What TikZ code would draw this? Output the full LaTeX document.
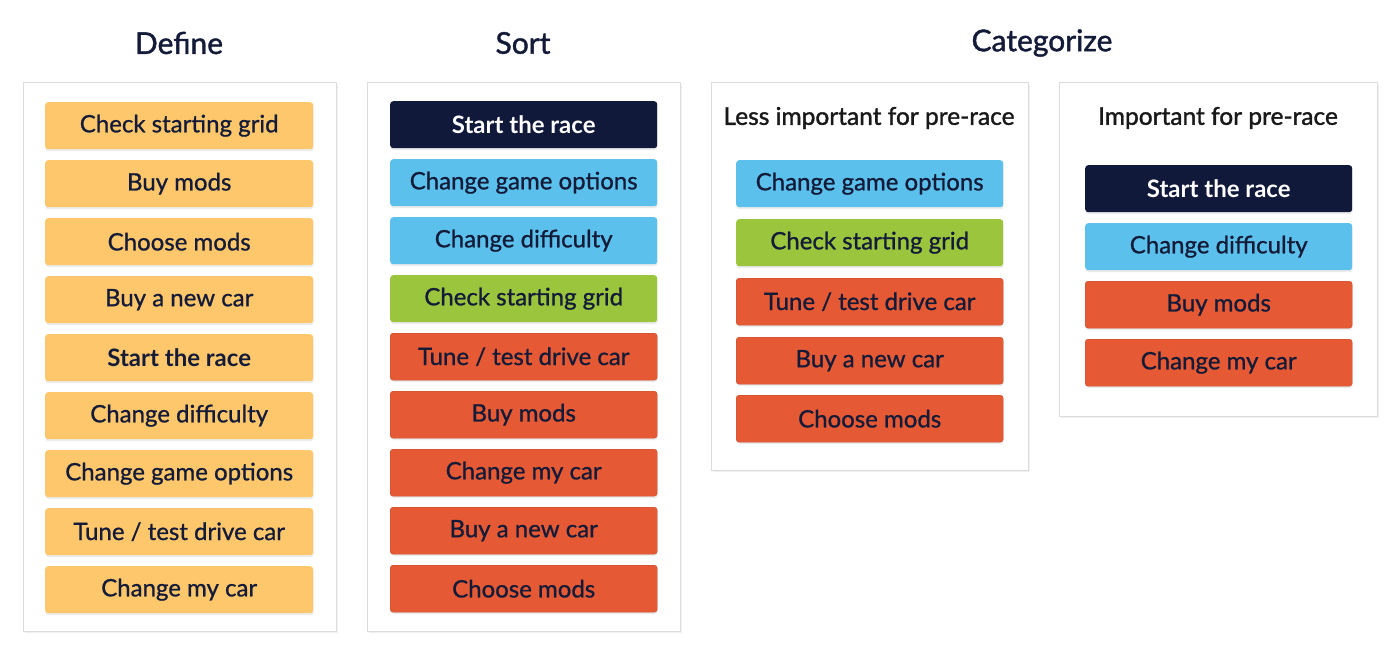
\documentclass[tikz,border=0pt]{standalone}
\usepackage{fontspec}
\setmainfont{Lato}
\newfontfamily\headfont{Lato}[FakeBold=1.4]
\newfontfamily\btnfont{Lato}[FakeBold=0.9]
\usetikzlibrary{shadows}
\definecolor{ink}{HTML}{141B38}
\definecolor{cyellow}{HTML}{FEC76C}
\definecolor{cblue}{HTML}{5BC0EB}
\definecolor{cgreen}{HTML}{9BC53D}
\definecolor{cred}{HTML}{E55934}
\definecolor{cnavy}{HTML}{10193A}
\definecolor{panelline}{HTML}{DCDCDC}
\tikzset{
  panel/.style={draw=panelline, line width=1pt, fill=white,
    drop shadow={opacity=0.12, shadow xshift=1.5pt, shadow yshift=-2pt}},
  btn/.style={rounded corners=3pt, minimum width=268pt, minimum height=47pt,
    inner sep=0pt, text=ink, font=\fontsize{24}{28}\selectfont\btnfont, anchor=north west,
    drop shadow={opacity=0.15, shadow xshift=0.5pt, shadow yshift=-2pt}},
  boldtext/.style={font=\fontsize{24}{28}\selectfont\bfseries},
  ybtn/.style={btn, fill=cyellow},
  bbtn/.style={btn, fill=cblue},
  gbtn/.style={btn, fill=cgreen},
  rbtn/.style={btn, fill=cred, draw=cred!85!black, line width=0.4pt},
  nbtn/.style={btn, fill=cnavy, text=white, boldtext},
  title/.style={text=ink, font=\fontsize{30}{34}\selectfont\headfont},
  subtitle/.style={text=black!90, font=\fontsize{24.5}{28}\selectfont\headfont}
}
\begin{document}
\begin{tikzpicture}[x=1pt,y=-1pt]
\useasboundingbox (0,0) rectangle (1400,658);
% titles
\node[title] (tdefine) at (179,43) {Define};
\node[title] (tsort) at (523,43) {Sort};
\node[title] (tcat) at (1042,43) {Categorize};
% panels
\path[panel] (23,83) rectangle (336,631);
\path[panel] (367,83) rectangle (680,631);
\path[panel] (711,83) rectangle (1028,470);
\path[panel] (1059,83) rectangle (1377,416);
\node[subtitle] (tless) at (869,118) {Less important for pre-race};
\node[subtitle] (timp) at (1218,118) {Important for pre-race};
% Define
\node[ybtn] (d1) at (45,102) {Check starting grid};
\node[ybtn] (d2) at (45,160) {Buy mods};
\node[ybtn] (d3) at (45,218) {Choose mods};
\node[ybtn] (d4) at (45,276) {Buy a new car};
\node[ybtn, boldtext] (d5) at (45,334) {Start the race};
\node[ybtn] (d6) at (45,392) {Change difficulty};
\node[ybtn] (d7) at (45,450) {Change game options};
\node[ybtn] (d8) at (45,508) {Tune / test drive car};
\node[ybtn] (d9) at (45,566) {Change my car};
% Sort
\node[nbtn, minimum width=267pt] (s1) at (390,101) {Start the race};
\node[bbtn, minimum width=267pt] (s2) at (390,159) {Change game options};
\node[bbtn, minimum width=267pt] (s3) at (390,217) {Change difficulty};
\node[gbtn, minimum width=267pt] (s4) at (390,275) {Check starting grid};
\node[rbtn, minimum width=267pt] (s5) at (390,333) {Tune / test drive car};
\node[rbtn, minimum width=267pt] (s6) at (390,391) {Buy mods};
\node[rbtn, minimum width=267pt] (s7) at (390,449) {Change my car};
\node[rbtn, minimum width=267pt] (s8) at (390,507) {Buy a new car};
\node[rbtn, minimum width=267pt] (s9) at (390,565) {Choose mods};
% Less important
\node[bbtn, minimum width=267pt] (l1) at (736,160) {Change game options};
\node[gbtn, minimum width=267pt] (l2) at (736,219) {Check starting grid};
\node[rbtn, minimum width=267pt] (l3) at (736,278) {Tune / test drive car};
\node[rbtn, minimum width=267pt] (l4) at (736,337) {Buy a new car};
\node[rbtn, minimum width=267pt] (l5) at (736,395) {Choose mods};
% Important
\node[nbtn, minimum width=267pt] (i1) at (1085,165) {Start the race};
\node[bbtn, minimum width=267pt] (i2) at (1085,223) {Change difficulty};
\node[rbtn, minimum width=267pt] (i3) at (1085,281) {Buy mods};
\node[rbtn, minimum width=267pt] (i4) at (1085,339) {Change my car};
\end{tikzpicture}
\end{document}
